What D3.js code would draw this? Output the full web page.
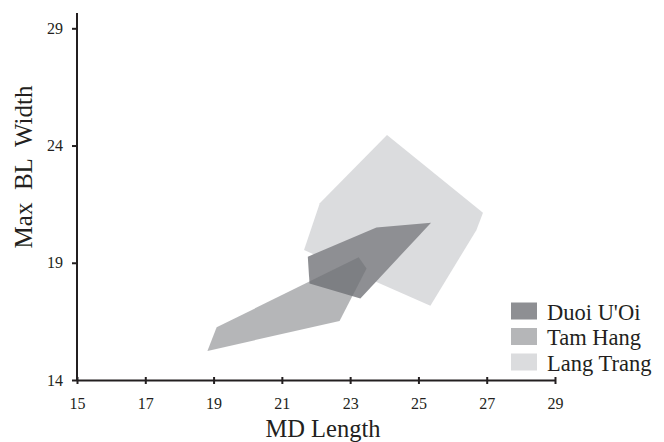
<!DOCTYPE html>
<html lang="en">
  <head>
    <meta charset="utf-8" />
    <script src="https://d3js.org/d3.v7.min.js"></script>
    <style>
      body { margin: 0; background: #fff; }
      text { font-family: "Liberation Serif", "Times New Roman", serif; fill: #231f20; }
      .tick text { font-size: 16px; }
    </style>
  </head>
  <body>
    <div id="chart"></div>
    <script>
      // polygon outlines: [MD Length, Max BL Width]
      var langTrang = [[24.08, 24.45], [26.89, 21.13], [26.70, 20.40], [25.35, 17.17], [21.65, 19.54], [22.11, 21.54]];
      var duoiUOi = [[21.76, 19.26], [23.77, 20.50], [25.37, 20.71], [23.30, 17.48], [21.81, 18.12]];
      var tamHang = [[18.82, 15.24], [19.09, 16.25], [23.25, 19.23], [23.48, 18.76], [22.69, 16.52]];

      var xTicks = [15, 17, 19, 21, 23, 25, 27, 29];
      var yTicks = [14, 19, 24, 29];
      var seriesNames = ["Duoi U'Oi", "Tam Hang", "Lang Trang"];

      var width = 664, height = 442;
      var svg = d3.select("#chart").append("svg")
        .attr("width", width).attr("height", height);

      var x = d3.scaleLinear().domain([15, 29]).range([77, 555]);
      var y = d3.scaleLinear().domain([14, 29]).range([380, 28.3]);

      var fills = {
        "Lang Trang": { fill: "#dbdcde", opacity: 1 },
        "Duoi U'Oi": { fill: "#8e8f93", opacity: 1 },
        "Tam Hang": { fill: "rgb(110,111,115)", opacity: 0.51 }
      };

      var line = d3.line().x(function (d) { return x(d[0]); }).y(function (d) { return y(d[1]); })
        .curve(d3.curveLinearClosed);

      var polys = [["Lang Trang", langTrang], ["Duoi U'Oi", duoiUOi], ["Tam Hang", tamHang]];
      svg.selectAll("path.hull").data(polys).enter().append("path")
        .attr("class", "hull")
        .attr("d", function (d) { return line(d[1]); })
        .attr("fill", function (d) { return fills[d[0]].fill; })
        .attr("fill-opacity", function (d) { return fills[d[0]].opacity; });

      // x axis
      var xAxis = svg.append("g").attr("transform", "translate(0," + y(14) + ")")
        .call(d3.axisBottom(x).tickValues(xTicks).tickSize(4).tickPadding(14).tickSizeOuter(0));
      xAxis.select(".domain").attr("stroke", "#231f20").attr("stroke-width", 2);
      xAxis.selectAll(".tick line").attr("y1", -3).attr("y2", 4).attr("stroke", "#231f20").attr("stroke-width", 2);

      // y axis
      var yAxis = svg.append("g").attr("transform", "translate(" + x(15) + ",0)")
        .call(d3.axisLeft(y).tickValues(yTicks).tickSize(5).tickPadding(9).tickSizeOuter(0));
      yAxis.select(".domain").attr("d", "M0," + y(14) + "V" + y(29.65)).attr("stroke", "#231f20").attr("stroke-width", 2);
      yAxis.selectAll(".tick line").attr("stroke", "#231f20").attr("stroke-width", 2);

      // axis titles
      svg.append("text").attr("x", 323).attr("y", 437).attr("text-anchor", "middle")
        .attr("font-size", 24.5).text("MD Length");
      svg.append("text").attr("transform", "translate(32,167) rotate(-90)").attr("text-anchor", "middle")
        .attr("font-size", 25).style("white-space", "pre").text("Max  BL  Width");

      // legend
      var legend = svg.selectAll(".legend").data(seriesNames).enter().append("g")
        .attr("class", "legend")
        .attr("transform", function (d, i) { return "translate(511," + (302.5 + i * 25.5) + ")"; });
      legend.append("rect").attr("width", 26).attr("height", 17)
        .attr("fill", function (d) { return fills[d].fill; })
        .attr("fill-opacity", function (d) { return fills[d].opacity; });
      legend.append("text").attr("x", 36).attr("y", 17).attr("font-size", 22.5)
        .text(function (d) { return d; });
    </script>
  </body>
</html>
